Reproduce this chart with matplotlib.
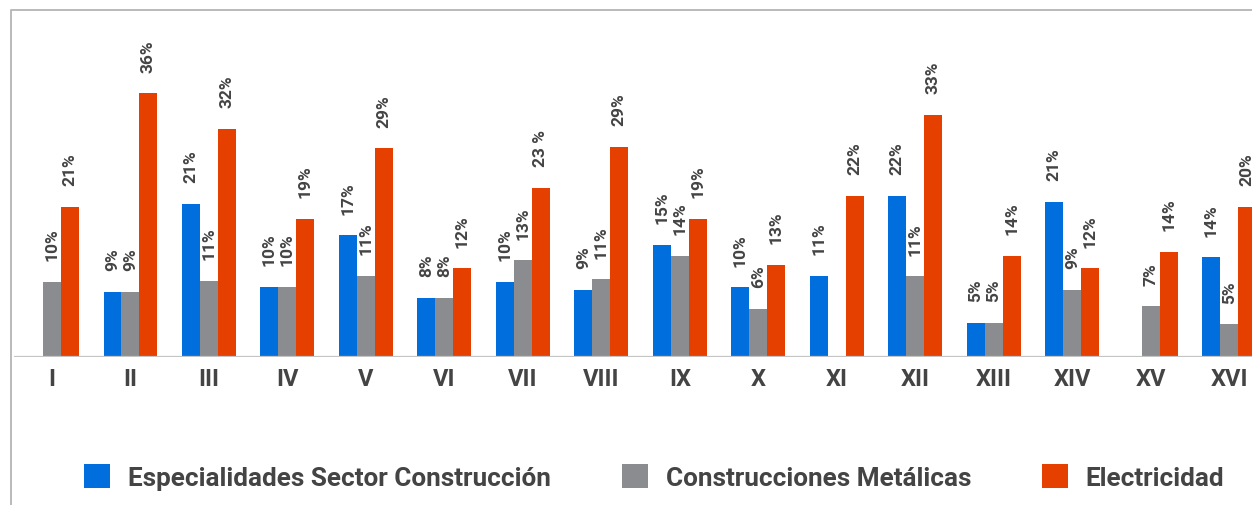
import numpy as np
import matplotlib.pyplot as plt
from matplotlib.patches import Patch
from matplotlib.lines import Line2D

plt.rcParams['font.family'] = ['Roboto', 'DejaVu Sans']

# ── Data ────────────────────────────────────────────────────────────────────
regions = ['I', 'II', 'III', 'IV', 'V', 'VI', 'VII', 'VIII', 'IX', 'X',
           'XI', 'XII', 'XIII', 'XIV', 'XV', 'XVI']

construccion = [np.nan, 8.9, 20.9, 9.6, 16.6, 8.1, 10.3, 9.2, 15.3, 9.5,
                11.1, 22.0, 4.7, 21.2, np.nan, 13.6]
metalicas = [10.3, 8.9, 10.4, 9.6, 11.1, 8.1, 13.2, 10.6, 13.8, 6.6,
             np.nan, 11.0, 4.7, 9.2, 6.9, 4.5]
electricidad = [20.5, 36.0, 31.2, 18.9, 28.5, 12.1, 23.1, 28.7, 18.9, 12.6,
                22.0, 33.1, 13.8, 12.1, 14.4, 20.5]

lbl_construccion = ['', '9%', '21%', '10%', '17%', '8%', '10%', '9%', '15%', '10%',
                    '11%', '22%', '5%', '21%', '', '14%']
lbl_metalicas = ['10%', '9%', '11%', '10%', '11%', '8%', '13%', '11%', '14%', '6%',
                 '', '11%', '5%', '9%', '7%', '5%']
lbl_electricidad = ['21%', '36%', '32%', '19%', '29%', '12%', '23 %', '29%', '19%', '13%',
                    '22%', '33%', '14%', '12%', '14%', '20%']

series_names = ['Especialidades Sector Construcción', 'Construcciones Metálicas', 'Electricidad']
colors = ['#006FDD', '#8A8C8F', '#E54000']
TEXT = '#444444'

# ── Plot ────────────────────────────────────────────────────────────────────
fig = plt.figure(figsize=(12.52, 5.06), dpi=100)
ax = fig.add_axes([14 / 1252, 148 / 506, 1238 / 1252, 292.8 / 506])

x = np.arange(len(regions))
w = 0.229
series = [(construccion, lbl_construccion), (metalicas, lbl_metalicas),
          (electricidad, lbl_electricidad)]

for i, (vals, lbls) in enumerate(series):
    vals = np.array(vals, dtype=float)
    pos = x + (i - 1) * w
    ok = ~np.isnan(vals)
    ax.bar(pos[ok], vals[ok], width=w, color=colors[i], linewidth=0, zorder=2)
    for p, v, t in zip(pos, vals, lbls):
        if np.isnan(v) or not t:
            continue
        ax.annotate(t, (p, v), xytext=(0, 15.5), textcoords='offset points',
                    rotation=90, ha='center', va='bottom', fontsize=12.5,
                    fontweight='bold', color=TEXT, annotation_clip=False)

ax.set_xlim(-0.484, 15.29)
ax.set_ylim(0, 40)
ax.axhline(0, color='#C4C4C4', linewidth=1.6, zorder=3)
for s in ax.spines.values():
    s.set_visible(False)
ax.set_yticks([])
ax.set_xticks(x)
ax.set_xticklabels(regions, fontsize=17, fontweight='bold', color=TEXT)
ax.tick_params(axis='x', length=0, pad=7)

# outer frame (top and left edges only visible)
fig.add_artist(Line2D([10.5 / 1252, 10.5 / 1252, 1.0], [0.0, 1 - 10.5 / 506, 1 - 10.5 / 506],
                      transform=fig.transFigure, color='#B4B4B4', linewidth=1.3))

handles = [Patch(facecolor=c, edgecolor='none') for c in colors]
fig.legend(handles, series_names, loc='center left',
           bbox_to_anchor=(84 / 1252, 1 - 478 / 506), ncol=3, frameon=False,
           prop={'family': 'Roboto', 'weight': 'bold', 'size': 18.8},
           labelcolor=TEXT, handlelength=1.0, handleheight=1.0,
           handletextpad=0.69, columnspacing=2.7, borderpad=0, borderaxespad=0)

plt.savefig('out.png', dpi=100)
